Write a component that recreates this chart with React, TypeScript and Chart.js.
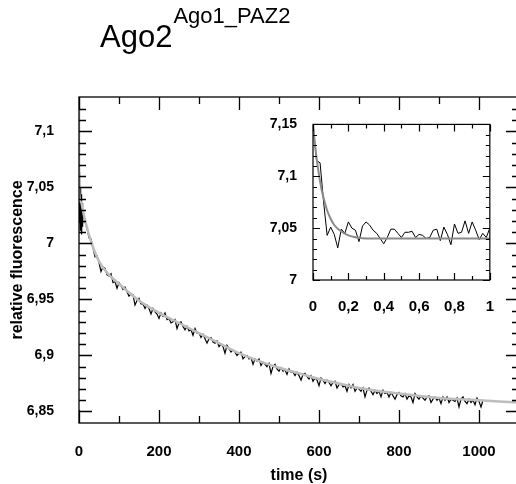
import React, { useEffect, useRef } from 'react';
import { Chart, registerables } from 'chart.js';

Chart.register(...registerables);

const FONT = '"Liberation Sans", Arial, Helvetica, sans-serif';

// ---------- main plot data ----------
const mainTimes = [
  0, 1, 2, 3, 4, 5, 6, 7, 8, 9,
  10, 15, 20, 25, 30, 35, 40, 45, 50, 55, 60, 65, 70, 75, 80, 85, 90, 95, 100, 105,
  110, 115, 120, 125, 130, 135, 140, 145, 150, 155, 160, 165, 170, 175, 180, 185, 190, 195, 200, 205,
  210, 215, 220, 225, 230, 235, 240, 245, 250, 255, 260, 265, 270, 275, 280, 285, 290, 295, 300, 305,
  310, 315, 320, 325, 330, 335, 340, 345, 350, 355, 360, 365, 370, 375, 380, 385, 390, 395, 400, 405,
  410, 415, 420, 425, 430, 435, 440, 445, 450, 455, 460, 465, 470, 475, 480, 485, 490, 495, 500, 505,
  510, 515, 520, 525, 530, 535, 540, 545, 550, 555, 560, 565, 570, 575, 580, 585, 590, 595, 600, 605,
  610, 615, 620, 625, 630, 635, 640, 645, 650, 655, 660, 665, 670, 675, 680, 685, 690, 695, 700, 705,
  710, 715, 720, 725, 730, 735, 740, 745, 750, 755, 760, 765, 770, 775, 780, 785, 790, 795, 800, 805,
  810, 815, 820, 825, 830, 835, 840, 845, 850, 855, 860, 865, 870, 875, 880, 885, 890, 895, 900, 905,
  910, 915, 920, 925, 930, 935, 940, 945, 950, 955, 960, 965, 970, 975, 980, 985, 990, 995, 1000, 1005,
  1010,
];

const mainSignal = [
  7.064, 7.018, 7.058, 7.012, 7.05, 7.02, 7.044, 7.008, 7.036, 7.015,
  7.03, 7.019, 7.014, 7.005, 7.004, 6.996, 6.988, 6.989, 6.983, 6.975, 6.979, 6.978, 6.972, 6.971, 6.973, 6.965, 6.966, 6.96, 6.965, 6.962,
  6.959, 6.961, 6.957, 6.953, 6.955, 6.954, 6.945, 6.949, 6.951, 6.946, 6.946, 6.942, 6.945, 6.942, 6.937, 6.942, 6.939, 6.937, 6.933, 6.938,
  6.935, 6.938, 6.932, 6.933, 6.929, 6.93, 6.932, 6.924, 6.929, 6.93, 6.926, 6.923, 6.926, 6.922, 6.923, 6.918, 6.924, 6.92, 6.92, 6.916,
  6.919, 6.915, 6.911, 6.915, 6.916, 6.912, 6.911, 6.913, 6.908, 6.91, 6.908, 6.902, 6.909, 6.906, 6.903, 6.905, 6.903, 6.9, 6.902, 6.903,
  6.897, 6.899, 6.9, 6.897, 6.898, 6.892, 6.897, 6.895, 6.897, 6.891, 6.894, 6.892, 6.89, 6.893, 6.884, 6.89, 6.892, 6.888, 6.886, 6.889,
  6.886, 6.887, 6.883, 6.888, 6.885, 6.885, 6.882, 6.885, 6.882, 6.878, 6.883, 6.884, 6.881, 6.879, 6.882, 6.877, 6.88, 6.878, 6.873, 6.88,
  6.878, 6.875, 6.878, 6.876, 6.873, 6.876, 6.877, 6.871, 6.874, 6.875, 6.872, 6.873, 6.868, 6.874, 6.871, 6.874, 6.868, 6.871, 6.87, 6.868,
  6.871, 6.863, 6.869, 6.871, 6.868, 6.865, 6.869, 6.866, 6.868, 6.863, 6.869, 6.866, 6.867, 6.863, 6.867, 6.864, 6.861, 6.865, 6.867, 6.864,
  6.863, 6.866, 6.861, 6.864, 6.863, 6.858, 6.866, 6.863, 6.861, 6.864, 6.862, 6.86, 6.863, 6.864, 6.858, 6.861, 6.863, 6.86, 6.862, 6.857,
  6.863, 6.86, 6.863, 6.858, 6.861, 6.86, 6.859, 6.862, 6.854, 6.861, 6.863, 6.859, 6.857, 6.861, 6.858, 6.86, 6.856, 6.862, 6.859, 6.854,
  6.86,
];

const mainFitTimes = [0, 0.3, 5, 10, 20, 30, 40, 50, 70, 100, 150, 200, 250, 300, 350, 400, 450, 500, 550, 600, 650, 700, 800, 900, 1000, 1100];
const mainFitValues = [7.15, 7.046, 7.037, 7.029, 7.014, 7.002, 6.992, 6.984, 6.974, 6.964, 6.949, 6.938, 6.929, 6.92, 6.911, 6.902, 6.895, 6.889, 6.884, 6.879, 6.875, 6.871, 6.866, 6.862, 6.86, 6.858];

const mainXTicks = [0, 200, 400, 600, 800, 1000];
const mainXMinor = [100, 300, 500, 700, 900];
const mainYTicks = [6.85, 6.9, 6.95, 7, 7.05, 7.1];
const mainYMinor = [
  6.86, 6.87, 6.88, 6.89, 6.91, 6.92, 6.93, 6.94, 6.96, 6.97, 6.98, 6.99,
  7.01, 7.02, 7.03, 7.04, 7.06, 7.07, 7.08, 7.09, 7.11, 7.12,
];

// ---------- inset data ----------
const insetTimes = [
  0, 0.02, 0.04, 0.06, 0.08, 0.1, 0.12, 0.14, 0.16, 0.18, 0.2, 0.22, 0.24, 0.26, 0.28, 0.3, 0.32, 0.34, 0.36, 0.38,
  0.4, 0.42, 0.44, 0.46, 0.48, 0.5, 0.52, 0.54, 0.56, 0.58, 0.6, 0.62, 0.64, 0.66, 0.68, 0.7, 0.72, 0.74, 0.76, 0.78,
  0.8, 0.82, 0.84, 0.86, 0.88, 0.9, 0.92, 0.94, 0.96, 0.98, 1.0,
];
const insetSignal = [
  7.15, 7.115, 7.113, 7.075, 7.043, 7.051, 7.044, 7.031, 7.049, 7.045, 7.056, 7.05, 7.048, 7.037, 7.052, 7.056, 7.053, 7.048, 7.045, 7.04,
  7.035, 7.041, 7.049, 7.049, 7.045, 7.041, 7.046, 7.046, 7.047, 7.041, 7.044, 7.043, 7.04, 7.041, 7.048, 7.049, 7.038, 7.051, 7.044, 7.034,
  7.054, 7.045, 7.046, 7.057, 7.045, 7.056, 7.048, 7.039, 7.045, 7.041, 7.05,
];
const insetFitTimes = [0, 0.01, 0.02, 0.03, 0.04, 0.05, 0.06, 0.08, 0.1, 0.12, 0.15, 0.2, 0.25, 0.3, 0.5, 1.0];
const insetFitValues = [7.15, 7.133, 7.118, 7.106, 7.095, 7.086, 7.079, 7.067, 7.059, 7.053, 7.048, 7.043, 7.041, 7.04, 7.04, 7.04];

const insetXTicks = [0, 0.2, 0.4, 0.6, 0.8, 1];
const insetXMinor = [0.1, 0.3, 0.5, 0.7, 0.9];
const insetYTicks = [7, 7.05, 7.1, 7.15];
const insetYMinor = [7.01, 7.02, 7.03, 7.04, 7.06, 7.07, 7.08, 7.09, 7.11, 7.12, 7.13, 7.14];

const fmt = (v: number | string) => String(v).replace('.', ',');

type FrameCfg = {
  xMajor: number[];
  xMinor: number[];
  yMajor: number[];
  yMinor: number[];
  majorLen: number;
  minorLen: number;
  lineWidth: number;
};

function makeFramePlugin(cfg: FrameCfg) {
  return {
    id: 'frameTicks',
    afterDatasetsDraw(chart: any) {
      const { ctx, chartArea: a, scales } = chart;
      const xs = scales.x;
      const ys = scales.y;
      ctx.save();
      ctx.strokeStyle = '#000';
      ctx.lineWidth = cfg.lineWidth;
      ctx.beginPath();
      const seg = (x1: number, y1: number, x2: number, y2: number) => {
        ctx.moveTo(x1, y1);
        ctx.lineTo(x2, y2);
      };
      const xMark = (v: number, len: number) => {
        const px = Math.round(xs.getPixelForValue(v)) + 0.5;
        seg(px, a.bottom, px, a.bottom - len);
        seg(px, a.top, px, a.top + len);
      };
      const yMark = (v: number, len: number) => {
        const py = Math.round(ys.getPixelForValue(v)) + 0.5;
        seg(a.left, py, a.left + len, py);
        seg(a.right, py, a.right - len, py);
      };
      cfg.xMajor.forEach((v) => xMark(v, cfg.majorLen));
      cfg.xMinor.forEach((v) => xMark(v, cfg.minorLen));
      cfg.yMajor.forEach((v) => yMark(v, cfg.majorLen));
      cfg.yMinor.forEach((v) => yMark(v, cfg.minorLen));
      ctx.stroke();
      ctx.strokeRect(a.left, a.top, a.right - a.left, a.bottom - a.top);
      ctx.restore();
    },
  };
}

const tickFont = (size: number) => ({ family: FONT, size, weight: 'bold' as const });

export default function App() {
  const mainRef = useRef<HTMLCanvasElement>(null);
  const insetRef = useRef<HTMLCanvasElement>(null);

  useEffect(() => {
    const mainData = mainTimes.map((t, i) => ({ x: t, y: mainSignal[i] }));
    const mainFit = mainFitTimes.map((t, i) => ({ x: t, y: mainFitValues[i] }));

    const main = new Chart(mainRef.current as HTMLCanvasElement, {
      type: 'line',
      data: {
        datasets: [
          {
            data: mainFit,
            borderColor: '#bdbdbd',
            borderWidth: 2.5,
            pointRadius: 0,
            cubicInterpolationMode: 'monotone',
            fill: false,
          },
          {
            data: mainData,
            borderColor: '#000',
            borderWidth: 1.2,
            pointRadius: 0,
            tension: 0,
            fill: false,
          },
        ],
      },
      options: {
        animation: false,
        responsive: false,
        events: [],
        layout: { padding: { left: 0, top: 97, right: 11, bottom: 0 } },
        plugins: { legend: { display: false }, tooltip: { enabled: false } },
        scales: {
          x: {
            type: 'linear',
            min: 0,
            max: 1100,
            afterBuildTicks: (s: any) => {
              s.ticks = mainXTicks.map((v) => ({ value: v }));
            },
            afterFit: (s: any) => {
              s.height = 61;
            },
            grid: { display: false, drawTicks: false },
            border: { display: false },
            ticks: {
              font: tickFont(15),
              color: '#000',
              padding: 20,
              maxRotation: 0,
              autoSkip: false,
              callback: fmt,
            },
            title: {
              display: true,
              text: 'time (s)',
              font: tickFont(16),
              color: '#000',
              padding: { top: 0, bottom: -1 },
            },
          },
          y: {
            type: 'linear',
            min: 6.8397,
            max: 7.1308,
            afterBuildTicks: (s: any) => {
              s.ticks = mainYTicks.map((v) => ({ value: v }));
            },
            afterFit: (s: any) => {
              s.width = 79;
            },
            grid: { display: false, drawTicks: false },
            border: { display: false },
            ticks: {
              font: tickFont(14),
              color: '#000',
              padding: 25,
              autoSkip: false,
              callback: fmt,
            },
            title: {
              display: true,
              text: 'relative fluorescence',
              font: tickFont(16),
              color: '#000',
              padding: { top: 8, bottom: 0 },
            },
          },
        },
      },
      plugins: [
        makeFramePlugin({
          xMajor: mainXTicks,
          xMinor: mainXMinor,
          yMajor: mainYTicks,
          yMinor: mainYMinor,
          majorLen: 13,
          minorLen: 7,
          lineWidth: 1.3,
        }),
      ],
    } as any);

    const insetData = insetTimes.map((t, i) => ({ x: t, y: insetSignal[i] }));
    const insetFit = insetFitTimes.map((t, i) => ({ x: t, y: insetFitValues[i] }));

    const inset = new Chart(insetRef.current as HTMLCanvasElement, {
      type: 'line',
      data: {
        datasets: [
          {
            data: insetFit,
            borderColor: '#8a8a8a',
            borderWidth: 2,
            pointRadius: 0,
            cubicInterpolationMode: 'monotone',
            fill: false,
          },
          {
            data: insetData,
            borderColor: '#000',
            borderWidth: 1,
            pointRadius: 0,
            tension: 0,
            fill: false,
          },
        ],
      },
      options: {
        animation: false,
        responsive: false,
        events: [],
        layout: { padding: { left: 0, top: 18, right: 18, bottom: 0 } },
        plugins: { legend: { display: false }, tooltip: { enabled: false } },
        scales: {
          x: {
            type: 'linear',
            min: 0,
            max: 1,
            afterBuildTicks: (s: any) => {
              s.ticks = insetXTicks.map((v) => ({ value: v }));
            },
            afterFit: (s: any) => {
              s.height = 50;
            },
            grid: { display: false, drawTicks: false },
            border: { display: false },
            ticks: {
              font: tickFont(15),
              color: '#000',
              padding: 18,
              maxRotation: 0,
              autoSkip: false,
              callback: fmt,
            },
          },
          y: {
            type: 'linear',
            min: 7,
            max: 7.15,
            afterBuildTicks: (s: any) => {
              s.ticks = insetYTicks.map((v) => ({ value: v }));
            },
            afterFit: (s: any) => {
              s.width = 63;
            },
            grid: { display: false, drawTicks: false },
            border: { display: false },
            ticks: {
              font: tickFont(14),
              color: '#000',
              padding: 16,
              autoSkip: false,
              callback: fmt,
            },
          },
        },
      },
      plugins: [
        makeFramePlugin({
          xMajor: insetXTicks,
          xMinor: insetXMinor,
          yMajor: insetYTicks,
          yMinor: insetYMinor,
          majorLen: 7,
          minorLen: 4,
          lineWidth: 1.2,
        }),
      ],
    } as any);

    return () => {
      main.destroy();
      inset.destroy();
    };
  }, []);

  return (
    <div
      style={{
        position: 'absolute',
        left: 0,
        top: 0,
        width: 516,
        height: 484,
        overflow: 'hidden',
        background: '#fff',
      }}
    >
      <canvas ref={mainRef} width={530} height={484} style={{ position: 'absolute', left: 0, top: 0 }} />
      <canvas ref={insetRef} width={262} height={230} style={{ position: 'absolute', left: 250, top: 100 }} />
      <div
        style={{
          position: 'absolute',
          left: 100,
          top: 20.5,
          fontFamily: FONT,
          fontSize: 31,
          lineHeight: '31px',
          whiteSpace: 'nowrap',
          color: '#000',
        }}
      >
        Ago2<span style={{ fontSize: 22, position: 'relative', top: -24, marginLeft: 1 }}>Ago1_PAZ2</span>
      </div>
    </div>
  );
}
